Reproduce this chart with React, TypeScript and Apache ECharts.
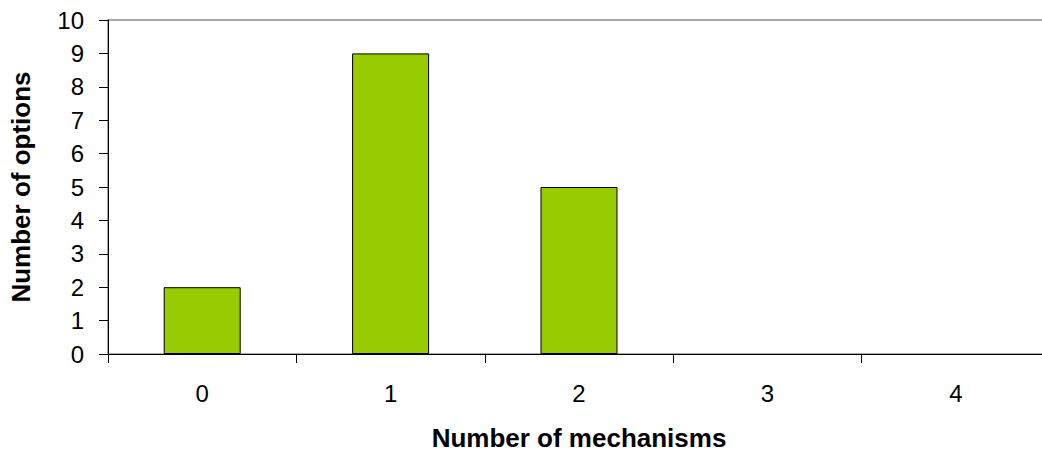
import React, { useEffect, useRef } from "react";
import * as echarts from "echarts";

const categories = ["0", "1", "2", "3", "4"];
const optionCounts = [2, 9, 5, 0, 0];
const yMin = 0;
const yMax = 10;
const yInterval = 1;

const FONT = "Liberation Sans, Arial, sans-serif";

export default function App() {
  const ref = useRef<HTMLDivElement>(null);
  useEffect(() => {
    if (!ref.current) return;
    const chart = echarts.init(ref.current, null, { renderer: "svg" });
    chart.setOption({
      animation: false,
      textStyle: { fontFamily: FONT },
      grid: {
        left: 108,
        right: -8,
        top: 20,
        bottom: 99,
        outerBoundsMode: "none",
        containLabel: false,
        show: true,
        borderColor: "#8a8a8a",
        borderWidth: 1.5,
        backgroundColor: "transparent",
      },
      xAxis: {
        type: "category",
        data: categories,
        name: "Number of mechanisms",
        nameLocation: "middle",
        nameGap: 71,
        nameTextStyle: { fontSize: 26, fontWeight: "bold", color: "#000", fontFamily: FONT },
        axisLine: { lineStyle: { color: "#000", width: 1 } },
        axisTick: { show: true, length: 9, inside: false, lineStyle: { color: "#000" } },
        axisLabel: { fontSize: 24, color: "#000", margin: 27, fontFamily: FONT },
        splitLine: { show: false },
      },
      yAxis: {
        type: "value",
        min: yMin,
        max: yMax,
        interval: yInterval,
        name: "Number of options",
        nameLocation: "middle",
        nameGap: 74,
        nameTextStyle: { fontSize: 26, fontWeight: "bold", color: "#000", fontFamily: FONT },
        axisLine: { show: true, lineStyle: { color: "#000", width: 1 } },
        axisTick: { show: true, length: 9, lineStyle: { color: "#000" } },
        axisLabel: { fontSize: 24, color: "#000", margin: 24, fontFamily: FONT },
        splitLine: { show: false },
      },
      series: [
        {
          type: "bar",
          data: optionCounts.map((v) => ({
            value: v,
            itemStyle: v === 0 ? { borderWidth: 0 } : undefined,
          })),
          barWidth: 77,
          itemStyle: { color: "#99CC00", borderColor: "#000", borderWidth: 1 },
        },
      ],
    });
    return () => chart.dispose();
  }, []);
  return (
    <div style={{ position: "absolute", left: 0, top: 0, width: 1042, height: 453, overflow: "hidden" }}>
      <div ref={ref} style={{ width: 1042, height: 453 }} />
    </div>
  );
}
